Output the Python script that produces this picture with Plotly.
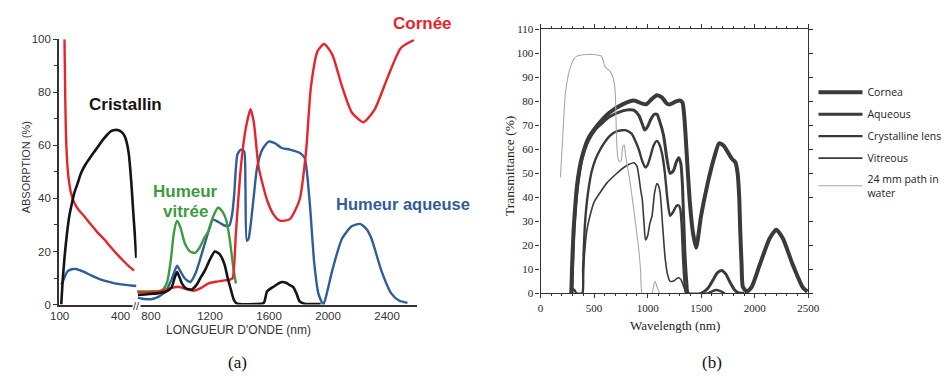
import plotly.graph_objects as go

W, H = 949, 379


def fx(px):
    return px / W


def fy(py):
    return 1 - py / H


# ---------------- (a) Absorption of the ocular media ----------------
# short-wave segment (100-480 nm)
uv_wl_cornee = [124, 126, 128, 130, 133, 137, 142, 148, 156, 172, 195, 220, 250, 284, 320, 348, 380, 413, 440, 466]
uv_cornee = [100, 88, 77, 68, 60, 54, 49, 45.5, 42, 38.4, 35.5, 33.4, 30.5, 27.4, 24.5, 22, 19.2, 16.5, 14.5, 12.8]

uv_wl_cristallin = [108, 115, 124, 135, 148, 160, 172, 190, 204, 225, 244, 265, 284, 310, 333, 350, 365, 385, 405, 420, 429, 440, 453, 462, 469, 477]
uv_cristallin = [0, 9, 17.6, 26, 33.5, 38, 42, 46, 49.3, 52.5, 54.7, 57, 59, 61.8, 63.9, 65.2, 65.7, 65.8, 65, 63.5, 61.4, 57, 45.6, 35, 27.4, 17.6]

uv_wl_aqueuse = [108, 115, 125, 140, 160, 180, 220, 260, 300, 333, 370, 413, 450, 477]
uv_aqueuse = [7.5, 8.5, 10.5, 12.6, 13.3, 13.4, 12.3, 10.8, 9.5, 8.7, 8.0, 7.5, 7.2, 7.0]

# long-wave segment (700-2600 nm)
ir_wl_cornee = [712, 760, 820, 855, 900, 950, 988, 1040, 1088, 1140, 1187, 1240, 1298, 1335, 1353, 1376,
                1409, 1442, 1475, 1497, 1530, 1586, 1630, 1674, 1741, 1807, 1851, 1884, 1929, 1973, 2028,
                2095, 2161, 2239, 2316, 2405, 2493, 2582]
ir_cornee = [4.5, 4.6, 4.8, 4.9, 5.6, 6.4, 6.7, 5.8, 5.2, 6.3, 7.9, 8.6, 9.1, 9.4, 9.9, 27.4,
             51.7, 66.3, 73.6, 68.7, 51.7, 39.5, 34, 31.6, 32.2, 39.5, 57.8, 82.1, 95.5, 98.2, 94.3,
             82.1, 72.4, 68.7, 73.6, 85.8, 96.7, 99.7]

ir_wl_aqueuse = [712, 740, 770, 800, 830, 860, 900, 940, 977, 1000, 1030, 1066, 1100, 1130, 1165, 1195,
                 1220, 1260, 1298, 1331, 1350, 1364, 1386, 1409, 1431, 1440, 1449, 1462, 1475, 1497, 1519,
                 1555, 1597, 1641, 1685, 1741, 1807, 1841, 1874, 1907, 1935, 1968, 1995, 2028, 2095, 2160,
                 2216, 2260, 2294, 2361, 2428, 2480, 2538]
ir_aqueuse = [2.5, 2.2, 2.0, 2.0, 2.4, 3.2, 5.0, 9.5, 14.6, 12.5, 9.8, 8.5, 11.5, 16.5, 23, 28.5,
              32, 31, 29.8, 29.8, 34, 41.4, 56.6, 58.4, 57.8, 45, 24, 25, 29.8, 41, 51.7,
              58.5, 61.4, 60.8, 59, 58.4, 57.2, 55.3, 39.5, 15.2, 4, 0, 5, 12.8, 24.9, 29.5,
              30.4, 28.5, 24.9, 12.8, 4.2, 1.5, 0.6]

ir_wl_vitree = [705, 750, 800, 850, 880, 910, 935, 955, 977, 1000, 1030, 1065, 1099, 1130, 1160, 1187,
                1220, 1254, 1285, 1309, 1330, 1342, 1360, 1376]
ir_vitree = [4.9, 4.9, 4.9, 5.0, 5.6, 8.5, 17, 27, 31.6, 29, 23, 20, 19.5, 21.5, 25, 27.4,
             33, 36.5, 35, 32, 26, 21, 13, 7.9]

ir_wl_cristallin = [712, 760, 820, 855, 900, 940, 960, 977, 995, 1010, 1040, 1077, 1110, 1140, 1165, 1200,
                    1232, 1265, 1298, 1320, 1342, 1360, 1376, 1400, 1500, 1564, 1586, 1610, 1630, 1660,
                    1685, 1715, 1741, 1765, 1785, 1807, 1840, 1900, 1950]
ir_cristallin = [3.6, 3.8, 4.1, 4.3, 4.8, 6.5, 10, 12.2, 10, 7.9, 6, 5.7, 7.5, 10.5, 12.8, 17,
                 20, 19, 15.2, 10, 5.5, 2, 0.6, 0.2, 0.2, 0.6, 4.9, 6, 6.7, 7.8,
                 8.5, 8.2, 7.3, 6.5, 4.3, 1.2, 0.3, 0.2, 0.2]

# ---------------- (b) Transmittance of the ocular media ----------------
wl_cornea = [287, 295, 308, 325, 339, 360, 385, 446, 522, 644, 766, 870, 950, 990, 1040, 1087, 1133,
             1180, 1209, 1260, 1300, 1325, 1345, 1362, 1392, 1422, 1453, 1499, 1560, 1621, 1667, 1710,
             1743, 1788, 1820, 1840, 1855, 1865, 1877, 1889, 1926, 1972, 2048, 2140, 2201, 2262, 2353,
             2445, 2491]
t_cornea = [0, 12, 26, 37, 44.4, 51, 56.5, 64.5, 69.5, 75.3, 78.7, 80.3, 79, 78.8, 81, 82.5, 81.6,
            79, 78.7, 79.8, 80.3, 79.5, 72, 60, 39, 25.6, 19, 32.3, 45.7, 56.5, 62.5, 61.5,
            59.2, 56, 54.5, 50, 40, 25.6, 12, 2.7, 0.7, 2.7, 12.1, 22.9, 26.5, 22.9, 12.1,
            2.7, 0.7]

wl_aqueous = [292, 300, 312, 330, 350, 385, 446, 522, 644, 766, 827, 870, 919, 950, 973, 1000, 1030,
              1060, 1087, 1110, 1148, 1180, 1209, 1240, 1270, 1291, 1310, 1325, 1346, 1365, 1380, 1500,
              1560, 1610, 1650, 1690, 1730, 1770, 1810, 1850, 1900]
t_aqueous = [0, 13, 27, 38, 46, 55.5, 63.5, 68.7, 73.5, 76, 76.5, 76.3, 74, 70.5, 68, 69.5, 72.5,
             74.5, 74.6, 72, 65.9, 56, 50, 51, 55, 56.5, 54, 45, 18.8, 5, 0, 0,
             2, 5.5, 8.5, 9.5, 8, 4.5, 1.5, 0.2, 0]

wl_lens = [280, 300, 315, 335, 390, 397, 405, 415, 430, 450, 476, 510, 552, 600, 644, 700, 760, 800,
           850, 888, 920, 950, 980, 1000, 1026, 1055, 1087, 1110, 1133, 1160, 1185, 1209, 1240, 1270,
           1291, 1305, 1318, 1330, 1345, 1360, 1560, 1600, 1640, 1680, 1720]
t_lens = [0, 1.5, 1.5, 0, 0, 10, 20, 29, 37, 44, 50.5, 55.5, 59.5, 63, 65.5, 67.3, 67.9, 67.9,
          66.5, 63.2, 59.5, 55, 52.4, 53.5, 57, 61.5, 63.5, 62, 58.5, 50.5, 39, 32.3, 34, 36.5,
          36.6, 35, 28, 15, 4, 0, 0, 0.8, 1.4, 0.9, 0]

wl_vitreous = [392, 400, 410, 430, 460, 500, 552, 620, 705, 780, 827, 873, 900, 919, 935, 950, 965,
               980, 1000, 1020, 1041, 1065, 1087, 1100, 1117, 1140, 1163, 1185, 1209, 1235, 1255, 1275,
               1291, 1310, 1331, 1355, 1377]
t_vitreous = [0, 8, 16, 25.5, 32, 38, 41.7, 46, 49.7, 52.5, 53.8, 54.4, 53, 48.4, 43, 39, 30,
              22.2, 24, 29, 32.3, 42, 45.7, 45, 41.7, 28, 14.8, 8, 5, 5, 5.5, 6.3,
              6.5, 5.8, 3.5, 1, 0]

wl_water = [186, 200, 211, 232, 255, 278, 310, 339, 430, 491, 540, 568, 585, 598, 620, 644, 675, 690,
            699, 705, 711, 720, 730, 751, 766, 781, 790, 797, 830, 858, 890, 919, 935, 950, 1040, 1055,
            1070, 1085, 1110]
t_water = [48.4, 60, 68.6, 83.4, 90, 94.1, 97.5, 98.8, 99.5, 99.5, 99.2, 98.8, 97, 94.8, 93.5, 92.8,
           90.1, 87, 82.1, 72, 63.2, 57, 55.1, 55.1, 60.5, 61.9, 59, 56.5, 48, 39, 28, 17.5, 9, 0,
           0, 3, 5, 3, 0]

RED, BLACK, BLUE, GREEN = "#e8232a", "#141414", "#2f5d99", "#3d9b3f"
INK = "#3a3a3a"
SANS = "Liberation Sans, Arial, sans-serif"
SERIF = "Liberation Serif, Times New Roman, serif"

fig = go.Figure()


def curve(x, y, color, width, xa, ya, name=None, legend=False):
    fig.add_trace(go.Scatter(
        x=x, y=y, mode="lines", name=name, showlegend=legend,
        line=dict(color=color, width=width, shape="spline", smoothing=0.6),
        xaxis=xa, yaxis=ya, hoverinfo="skip", legendgroup=name))


# panel (a)
curve(uv_wl_aqueuse, uv_aqueuse, BLUE, 2.4, "x", "y")
curve(uv_wl_cornee, uv_cornee, RED, 2.4, "x", "y")
curve(uv_wl_cristallin, uv_cristallin, BLACK, 2.6, "x", "y")
curve(ir_wl_aqueuse, ir_aqueuse, BLUE, 2.4, "x2", "y")
curve(ir_wl_vitree, ir_vitree, GREEN, 2.4, "x2", "y")
curve(ir_wl_cornee, ir_cornee, RED, 2.4, "x2", "y")
curve(ir_wl_cristallin, ir_cristallin, BLACK, 2.6, "x2", "y")

# panel (b)
curve(wl_cornea, t_cornea, INK, 4.0, "x3", "y2", "Cornea", True)
curve(wl_aqueous, t_aqueous, INK, 3.0, "x3", "y2", "Aqueous", True)
curve(wl_lens, t_lens, INK, 2.4, "x3", "y2", "Crystalline lens", True)
curve(wl_vitreous, t_vitreous, INK, 1.6, "x3", "y2", "Vitreous", True)
curve(wl_water, t_water, "#a8a8a8", 1.1, "x3", "y2", "24 mm path in<br>water", True)

axis_a = dict(showgrid=False, zeroline=False, showline=True, linecolor="#333", linewidth=1.5,
              tickfont=dict(family=SANS, size=11.5, color="#333"))
axis_b = dict(showgrid=False, zeroline=False, showline=True, linecolor="#333", linewidth=1.2,
              mirror="ticks", ticks="outside", ticklen=4, tickcolor="#333",
              tickfont=dict(family=SERIF, size=11, color="#222"))

fig.update_layout(
    width=W, height=H, autosize=False,
    margin=dict(l=0, r=0, t=0, b=0),
    paper_bgcolor="white", plot_bgcolor="rgba(0,0,0,0)",
    xaxis=dict(axis_a, domain=[fx(51), fx(130.5)], range=[96.6, 479.4], anchor="y",
               tickvals=[100, 400], ticks=""),
    xaxis2=dict(axis_a, domain=[fx(130.5), fx(417)], range=[703.7, 2604], anchor="y",
                tickvals=[800, 1200, 1600, 2000, 2400], ticks=""),
    yaxis=dict(axis_a, domain=[fy(308.3), fy(34.3)], range=[0, 100], anchor="x",
               tickvals=[0, 20, 40, 60, 80, 100], ticks="outside", ticklen=4, tickcolor="#333",
               minor=dict(dtick=10, ticks="outside", ticklen=3, tickcolor="#333")),
    xaxis3=dict(axis_b, domain=[fx(543), fx(816.5)], range=[0, 2500], anchor="y2",
                dtick=500, minor=dict(dtick=100, ticks="outside", ticklen=2, tickcolor="#333")),
    yaxis2=dict(axis_b, domain=[fy(296.7), fy(24)], range=[0, 110], anchor="x3", dtick=10),
    legend=dict(x=fx(821.8), y=fy(74), xanchor="left", yanchor="top",
                font=dict(family="Open Sans, sans-serif", size=10.5, color="#222"),
                bgcolor="rgba(0,0,0,0)", traceorder="grouped", tracegroupgap=3, itemwidth=44),
)


def label(text, x, y, size, color="#111", family=SANS, bold=False, angle=0, bg=None):
    fig.add_annotation(text=f"<b>{text}</b>" if bold else text, x=fx(x), y=fy(y),
                       xref="paper", yref="paper", showarrow=False, textangle=angle,
                       xanchor="center", yanchor="middle", bgcolor=bg, borderpad=0,
                       font=dict(family=family, size=size, color=color))


# panel (a) texts
label("Cristallin", 119, 102, 17, BLACK, bold=True)
label("Humeur", 180, 192, 17, GREEN, bold=True)
label("vitrée", 180, 212, 17, GREEN, bold=True)
label("Humeur aqueuse", 402, 204, 16.5, BLUE, bold=True)
label("Cornée", 422, 18, 17, RED, bold=True)
label("ABSORPTION (%)", 17, 167, 11, "#333", angle=-90)
label("LONGUEUR D'ONDE (nm)", 234, 335, 12, "#333")
label("//", 130, 310, 11, "#333", bg="white")
label("(a)", 233, 368, 17, "#111", family=SERIF)

# panel (b) texts
label("Transmittance (%)", 512, 165, 13.5, "#222", family=SERIF, angle=-90)
label("Wavelength (nm)", 680, 330, 13, "#222", family=SERIF)
label("(b)", 718, 368, 17, "#111", family=SERIF)

fig.write_html("out.html")
